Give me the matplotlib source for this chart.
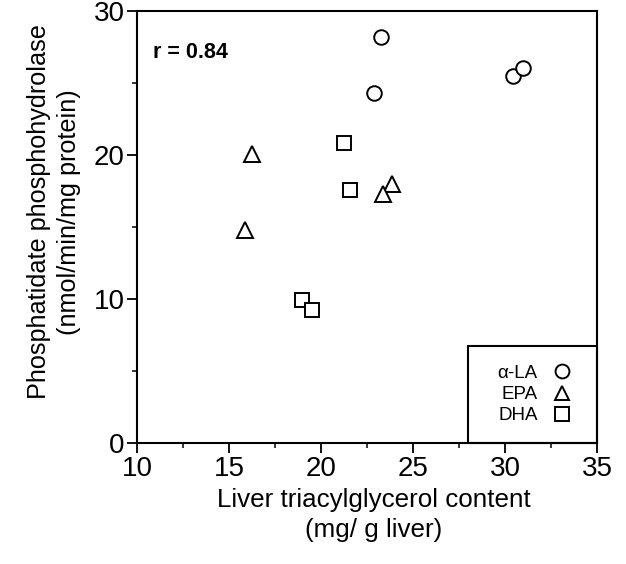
import matplotlib
matplotlib.use("Agg")
import matplotlib.pyplot as plt
from matplotlib.patches import Rectangle
from matplotlib.ticker import MultipleLocator

plt.rcParams['font.family'] = ['Liberation Sans', 'DejaVu Sans']

# Data
ala_x = [23.24, 22.88, 30.42, 31.0]
ala_y = [28.16, 24.34, 25.49, 26.03]
epa_x = [16.27, 15.89, 23.88, 23.37]
epa_y = [20.04, 14.82, 18.0, 17.26]
dha_x = [21.27, 21.58, 18.98, 19.49]
dha_y = [20.86, 17.56, 9.95, 9.21]

series_labels = ["\u03b1-LA", "EPA", "DHA"]
x_ticks = [10, 15, 20, 25, 30, 35]
y_ticks = [0, 10, 20, 30]

fig = plt.figure(figsize=(6.26, 5.64), dpi=100)
ax = fig.add_axes([0.2188, 0.2145, 0.7349, 0.7660])

mk = dict(linestyle='none', markerfacecolor='white', markeredgecolor='black',
          markeredgewidth=1.4, clip_on=False)
h1, = ax.plot(ala_x, ala_y, marker='o', markersize=10.5, label=series_labels[0], **mk)
h2, = ax.plot(epa_x, epa_y, marker='^', markersize=11, label=series_labels[1], **mk)
h3, = ax.plot(dha_x, dha_y, marker='s', markersize=10.5, label=series_labels[2], **mk)

ax.set_xlim(10, 35)
ax.set_ylim(0, 30)
ax.set_xticks(x_ticks)
ax.set_yticks(y_ticks)
ax.xaxis.set_minor_locator(MultipleLocator(2.5))
ax.yaxis.set_minor_locator(MultipleLocator(5))
ax.tick_params(which='major', direction='out', length=7, width=1.3, labelsize=20, pad=2)
ax.tick_params(which='minor', direction='out', length=3.5, width=1.1)
for s in ax.spines.values():
    s.set_linewidth(1.5)

ax.set_xlabel("Liver triacylglycerol content\n(mg/ g liver)", fontsize=18.7, linespacing=1.3, labelpad=5, x=0.515)
ax.set_ylabel("Phosphatidate phosphohydrolase\n(nmol/min/mg protein)", fontsize=18.2, linespacing=1.3, labelpad=9, y=0.535)

ax.text(0.035, 0.905, "r = 0.84", transform=ax.transAxes, fontsize=15.5,
        fontweight='bold', ha='left', va='center')

# legend box
bx0, bw, bh = 0.719, 0.281, 0.2245
ax.add_patch(Rectangle((bx0, 0), bw, bh, transform=ax.transAxes, fill=False,
                       edgecolor='black', linewidth=1.5, clip_on=False, zorder=5))
ax.legend(handles=[h1, h2, h3], loc='center', bbox_to_anchor=(bx0 + bw / 2 + 0.005, bh / 2),
          frameon=False, markerfirst=False, fontsize=13.5, handlelength=1.0,
          handletextpad=0.8, labelspacing=0.22, borderpad=0, markerscale=0.95)

fig.savefig("out.png", dpi=100, facecolor='white')
